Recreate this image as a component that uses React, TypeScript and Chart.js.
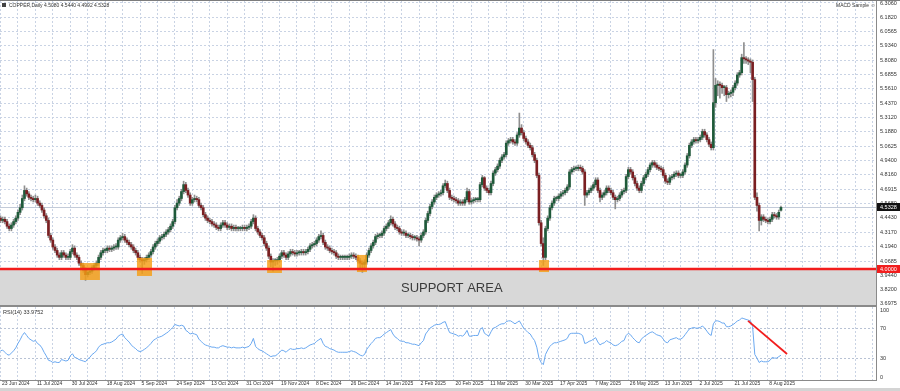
import React, { useEffect, useRef } from 'react';
import { Chart, registerables } from 'chart.js';
Chart.register(...registerables);

// ---------------- data ----------------
const closes = [
4.42,4.43,4.41,4.37,4.35,4.38,4.41,4.44,4.49,4.53,
4.61,4.68,4.65,4.62,4.61,4.60,4.61,4.57,4.55,4.51,
4.46,4.42,4.29,4.25,4.19,4.16,4.12,4.10,4.14,4.12,
4.10,4.10,4.15,4.18,4.12,4.10,4.05,4.03,3.99,3.95,
3.97,3.98,4.01,4.03,4.05,4.10,4.14,4.16,4.16,4.18,
4.17,4.18,4.19,4.19,4.25,4.27,4.28,4.25,4.23,4.21,
4.19,4.16,4.14,4.10,4.08,4.07,4.08,4.10,4.12,4.15,
4.19,4.22,4.24,4.27,4.28,4.30,4.32,4.34,4.37,4.41,
4.53,4.57,4.61,4.67,4.73,4.68,4.64,4.57,4.60,4.61,
4.60,4.55,4.53,4.47,4.44,4.42,4.41,4.39,4.38,4.36,
4.35,4.38,4.40,4.38,4.36,4.37,4.35,4.36,4.35,4.35,
4.35,4.36,4.35,4.36,4.37,4.41,4.44,4.35,4.32,4.29,
4.27,4.22,4.18,4.11,4.06,4.07,4.07,4.08,4.11,4.14,
4.12,4.10,4.13,4.15,4.14,4.13,4.14,4.14,4.15,4.14,
4.15,4.17,4.20,4.21,4.22,4.25,4.28,4.29,4.23,4.19,
4.18,4.16,4.15,4.14,4.11,4.10,4.10,4.10,4.10,4.10,
4.11,4.12,4.11,4.10,4.07,4.05,4.04,4.06,4.12,4.16,
4.20,4.23,4.28,4.29,4.29,4.31,4.35,4.37,4.40,4.43,
4.39,4.36,4.35,4.32,4.31,4.31,4.29,4.29,4.28,4.27,
4.27,4.26,4.25,4.29,4.32,4.42,4.48,4.54,4.58,4.62,
4.64,4.65,4.66,4.72,4.74,4.68,4.62,4.61,4.60,4.59,
4.57,4.58,4.57,4.60,4.67,4.58,4.59,4.60,4.60,4.60,
4.73,4.79,4.70,4.68,4.66,4.74,4.83,4.86,4.89,4.94,
4.97,4.99,5.09,5.11,5.12,5.10,5.09,5.16,5.22,5.18,
5.13,5.10,5.07,5.05,4.99,4.94,4.81,4.40,4.22,4.10,
4.35,4.44,4.53,4.57,4.61,4.61,4.63,4.65,4.66,4.68,
4.71,4.84,4.86,4.87,4.87,4.88,4.87,4.84,4.64,4.66,
4.68,4.70,4.73,4.77,4.68,4.62,4.64,4.66,4.70,4.68,
4.66,4.62,4.60,4.61,4.64,4.67,4.68,4.80,4.86,4.84,
4.79,4.74,4.70,4.68,4.74,4.79,4.82,4.86,4.90,4.92,
4.90,4.88,4.87,4.86,4.81,4.76,4.75,4.79,4.80,4.82,
4.83,4.81,4.81,4.84,4.90,4.98,5.07,5.10,5.12,5.11,
5.12,5.14,5.19,5.16,5.12,5.08,5.05,5.44,5.59,5.60,
5.59,5.57,5.57,5.51,5.52,5.53,5.57,5.61,5.68,5.70,
5.83,5.82,5.81,5.80,5.79,5.64,4.62,4.55,4.42,4.45,
4.43,4.42,4.41,4.43,4.47,4.46,4.45,4.49,4.5328
];

const opens = [
4.44,4.42,4.43,4.41,4.37,4.35,4.38,4.41,4.44,4.49,
4.53,4.61,4.68,4.65,4.62,4.61,4.60,4.61,4.57,4.55,
4.51,4.46,4.42,4.29,4.25,4.19,4.16,4.12,4.10,4.14,
4.12,4.10,4.10,4.15,4.18,4.12,4.10,4.05,4.03,3.99,
3.95,3.97,3.98,4.01,4.03,4.05,4.10,4.14,4.16,4.16,
4.18,4.17,4.18,4.19,4.19,4.25,4.27,4.28,4.25,4.23,
4.21,4.19,4.16,4.14,4.10,4.08,4.07,4.08,4.10,4.12,
4.15,4.19,4.22,4.24,4.27,4.28,4.30,4.32,4.34,4.37,
4.41,4.53,4.57,4.61,4.67,4.73,4.68,4.64,4.57,4.60,
4.61,4.60,4.55,4.53,4.47,4.44,4.42,4.41,4.39,4.38,
4.36,4.35,4.38,4.40,4.38,4.36,4.37,4.35,4.36,4.35,
4.35,4.35,4.36,4.35,4.36,4.37,4.41,4.44,4.35,4.32,
4.29,4.27,4.22,4.18,4.11,4.06,4.07,4.07,4.08,4.11,
4.14,4.12,4.10,4.13,4.15,4.14,4.13,4.14,4.14,4.15,
4.14,4.15,4.17,4.20,4.21,4.22,4.25,4.28,4.29,4.23,
4.19,4.18,4.16,4.15,4.14,4.11,4.10,4.10,4.10,4.10,
4.10,4.11,4.12,4.11,4.10,4.07,4.05,4.04,4.06,4.12,
4.16,4.20,4.23,4.28,4.29,4.29,4.31,4.35,4.37,4.40,
4.43,4.39,4.36,4.35,4.32,4.31,4.31,4.29,4.29,4.28,
4.27,4.27,4.26,4.25,4.29,4.32,4.42,4.48,4.54,4.58,
4.62,4.64,4.65,4.66,4.72,4.74,4.68,4.62,4.61,4.60,
4.59,4.57,4.58,4.57,4.60,4.67,4.58,4.59,4.60,4.60,
4.60,4.73,4.79,4.70,4.68,4.66,4.74,4.83,4.86,4.89,
4.94,4.97,4.99,5.09,5.11,5.12,5.10,5.09,5.16,5.22,
5.18,5.13,5.10,5.07,5.05,4.99,4.94,4.81,4.40,4.22,
4.10,4.35,4.44,4.53,4.57,4.61,4.61,4.63,4.65,4.66,
4.68,4.71,4.84,4.86,4.87,4.87,4.88,4.87,4.84,4.64,
4.66,4.68,4.70,4.73,4.77,4.68,4.62,4.64,4.66,4.70,
4.68,4.66,4.62,4.60,4.61,4.64,4.67,4.68,4.80,4.86,
4.84,4.79,4.74,4.70,4.68,4.74,4.79,4.82,4.86,4.90,
4.92,4.90,4.88,4.87,4.86,4.81,4.76,4.75,4.79,4.80,
4.82,4.83,4.81,4.81,4.84,4.90,4.98,5.07,5.10,5.12,
5.11,5.12,5.14,5.19,5.16,5.12,5.08,5.05,5.44,5.59,
5.60,5.59,5.57,5.57,5.51,5.52,5.53,5.57,5.61,5.68,
5.70,5.83,5.82,5.81,5.80,5.79,5.64,4.62,4.55,4.42,
4.45,4.43,4.42,4.41,4.43,4.47,4.46,4.45,4.508
];

const highs = [
4.46,4.45,4.45,4.43,4.39,4.40,4.43,4.46,4.51,4.56,
4.64,4.72,4.70,4.67,4.64,4.63,4.64,4.63,4.59,4.57,
4.53,4.48,4.44,4.31,4.27,4.21,4.18,4.14,4.16,4.16,
4.14,4.13,4.17,4.21,4.20,4.14,4.12,4.07,4.05,4.01,
4.00,4.00,4.03,4.05,4.07,4.12,4.16,4.18,4.18,4.20,
4.20,4.20,4.21,4.22,4.27,4.29,4.31,4.30,4.27,4.25,
4.23,4.21,4.18,4.16,4.12,4.10,4.10,4.12,4.14,4.17,
4.21,4.24,4.26,4.29,4.30,4.32,4.34,4.36,4.39,4.43,
4.55,4.60,4.63,4.69,4.76,4.75,4.70,4.66,4.62,4.64,
4.63,4.62,4.57,4.55,4.49,4.46,4.44,4.43,4.41,4.40,
4.38,4.40,4.42,4.42,4.40,4.39,4.39,4.38,4.38,4.37,
4.37,4.38,4.38,4.38,4.39,4.43,4.47,4.46,4.37,4.34,
4.31,4.29,4.24,4.20,4.13,4.09,4.09,4.10,4.13,4.16,
4.16,4.14,4.15,4.17,4.17,4.16,4.16,4.16,4.17,4.17,
4.17,4.19,4.22,4.23,4.24,4.27,4.30,4.33,4.31,4.25,
4.21,4.20,4.18,4.17,4.16,4.13,4.12,4.12,4.12,4.12,
4.13,4.14,4.14,4.13,4.12,4.09,4.07,4.08,4.14,4.18,
4.22,4.25,4.30,4.31,4.31,4.33,4.37,4.39,4.42,4.46,
4.45,4.41,4.38,4.37,4.34,4.34,4.33,4.31,4.31,4.30,
4.29,4.29,4.28,4.31,4.34,4.44,4.50,4.56,4.60,4.64,
4.66,4.67,4.68,4.74,4.77,4.76,4.70,4.64,4.63,4.62,
4.61,4.60,4.60,4.62,4.70,4.69,4.61,4.62,4.62,4.62,
4.75,4.81,4.80,4.72,4.70,4.76,4.85,4.88,4.91,4.96,
4.99,5.01,5.11,5.13,5.14,5.14,5.12,5.18,5.35,5.25,
5.20,5.15,5.12,5.09,5.07,5.01,4.96,4.83,4.42,4.27,
4.37,4.46,4.55,4.59,4.63,4.63,4.65,4.67,4.68,4.70,
4.73,4.86,4.88,4.89,4.89,4.90,4.90,4.89,4.86,4.68,
4.70,4.72,4.75,4.79,4.79,4.70,4.66,4.68,4.72,4.72,
4.70,4.68,4.64,4.63,4.66,4.69,4.70,4.82,4.88,4.88,
4.86,4.81,4.76,4.72,4.76,4.81,4.84,4.88,4.92,4.94,
4.94,4.92,4.90,4.89,4.88,4.83,4.78,4.81,4.82,4.84,
4.85,4.85,4.83,4.86,4.92,5.00,5.09,5.12,5.14,5.14,
5.14,5.16,5.21,5.21,5.18,5.14,5.10,5.90,5.65,5.63,
5.62,5.61,5.59,5.59,5.54,5.55,5.59,5.63,5.70,5.72,
5.86,5.96,5.84,5.83,5.82,5.81,5.66,4.66,4.57,4.47,
4.47,4.45,4.44,4.45,4.49,4.49,4.48,4.51,4.544
];

const lows = [
4.40,4.40,4.39,4.35,4.33,4.33,4.36,4.39,4.42,4.47,
4.51,4.59,4.63,4.60,4.59,4.58,4.58,4.55,4.53,4.49,
4.44,4.40,4.27,4.23,4.17,4.14,4.10,4.08,4.08,4.10,
4.08,4.08,4.08,4.13,4.10,4.08,4.03,4.01,3.97,3.90,
3.93,3.95,3.96,3.99,4.01,4.03,4.08,4.12,4.14,4.14,
4.15,4.15,4.16,4.17,4.17,4.23,4.25,4.23,4.21,4.19,
4.17,4.14,4.12,4.08,4.06,3.96,4.04,4.06,4.08,4.10,
4.13,4.17,4.20,4.22,4.25,4.26,4.28,4.30,4.32,4.35,
4.39,4.51,4.55,4.59,4.65,4.66,4.62,4.55,4.55,4.58,
4.58,4.53,4.51,4.45,4.42,4.40,4.39,4.37,4.36,4.34,
4.33,4.33,4.36,4.36,4.34,4.34,4.33,4.33,4.33,4.33,
4.33,4.33,4.33,4.33,4.34,4.35,4.39,4.33,4.30,4.27,
4.25,4.20,4.16,4.09,4.02,3.98,4.03,4.04,4.06,4.09,
4.10,4.08,4.08,4.11,4.12,4.11,4.11,4.12,4.12,4.12,
4.12,4.13,4.15,4.18,4.19,4.20,4.23,4.26,4.21,4.17,
4.16,4.14,4.13,4.12,4.09,4.08,4.08,4.08,4.08,4.08,
4.08,4.09,4.09,4.08,4.05,4.01,3.97,4.01,4.04,4.10,
4.14,4.18,4.21,4.26,4.27,4.27,4.29,4.33,4.35,4.38,
4.37,4.34,4.33,4.30,4.29,4.29,4.27,4.27,4.26,4.25,
4.25,4.24,4.20,4.23,4.27,4.30,4.40,4.46,4.52,4.56,
4.60,4.62,4.63,4.64,4.70,4.66,4.60,4.59,4.58,4.57,
4.55,4.55,4.55,4.55,4.58,4.56,4.56,4.57,4.58,4.58,
4.58,4.71,4.68,4.66,4.64,4.64,4.72,4.81,4.84,4.87,
4.92,4.95,4.97,5.07,5.09,5.08,5.07,5.07,5.14,5.16,
5.11,5.08,5.05,5.03,4.97,4.92,4.79,4.38,4.20,4.03,
4.08,4.33,4.42,4.51,4.55,4.59,4.59,4.61,4.63,4.64,
4.66,4.69,4.82,4.84,4.85,4.85,4.85,4.82,4.55,4.62,
4.64,4.66,4.68,4.71,4.66,4.58,4.60,4.62,4.64,4.66,
4.64,4.60,4.52,4.58,4.59,4.62,4.65,4.66,4.78,4.82,
4.77,4.72,4.68,4.66,4.66,4.72,4.77,4.80,4.84,4.88,
4.88,4.86,4.85,4.84,4.79,4.74,4.73,4.73,4.77,4.78,
4.80,4.79,4.79,4.79,4.82,4.88,4.96,5.05,5.08,5.09,
5.09,5.10,5.12,5.14,5.10,5.06,5.03,5.03,5.40,5.50,
5.48,5.52,5.50,5.45,5.48,5.49,5.50,5.55,5.59,5.66,
5.68,5.78,5.78,5.77,5.70,5.45,4.60,4.50,4.33,4.38,
4.41,4.40,4.39,4.39,4.41,4.44,4.43,4.43,4.4992
];

const rsi = [
40,41,38,35,34,37,40,44,50,55,
61,65,61,57,55,53,54,50,48,44,
38,33,27,26,24,25,24,24,28,27,
26,27,33,36,31,30,28,27,26,25,
29,31,35,37,40,45,48,49,50,51,
51,52,54,56,60,62,63,58,55,52,
48,45,43,40,39,40,42,44,47,50,
54,56,58,59,60,62,64,66,69,72,
76,75,74,75,74,68,66,63,64,63,
62,56,53,50,48,47,46,45,45,44,
44,46,47,46,45,45,44,45,44,44,
44,45,44,45,46,50,57,46,43,41,
40,38,36,34,32,33,33,35,38,41,
40,38,41,43,42,42,43,43,44,43,
44,46,48,49,50,53,55,57,50,46,
45,43,42,41,39,38,38,38,38,38,
39,40,39,38,36,34,33,35,42,46,
50,53,57,58,58,60,63,65,67,69,
63,59,57,54,53,53,51,51,50,49,
49,48,47,51,54,63,67,71,73,75,
76,76,77,79,80,72,65,64,63,62,
60,61,60,63,68,60,60,61,61,61,
69,72,64,62,60,66,71,72,74,76,
77,77,80,81,81,79,77,79,81,76,
71,68,65,63,58,54,45,30,24,21,
35,41,46,49,51,51,52,53,54,55,
57,63,64,64,64,64,63,61,50,51,
53,54,56,58,52,48,50,51,54,52,
51,48,47,48,50,53,54,61,64,62,
58,55,52,51,56,59,61,63,65,66,
64,62,61,60,56,52,51,55,56,57,
58,56,56,58,62,66,70,71,72,71,
71,72,74,71,67,63,61,77,81,81,
80,78,78,73,73,74,76,78,81,82,
85,84,83,82,81,73,35,30,24,26,
25,25,25,27,31,30,30,32,33.98
];

const dateLabels = [
'23 Jun 2024','11 Jul 2024','30 Jul 2024','18 Aug 2024','5 Sep 2024','24 Sep 2024',
'13 Oct 2024','31 Oct 2024','19 Nov 2024','8 Dec 2024','26 Dec 2024','14 Jan 2025',
'2 Feb 2025','20 Feb 2025','11 Mar 2025','30 Mar 2025','17 Apr 2025','7 May 2025',
'26 May 2025','13 Jun 2025','2 Jul 2025','21 Jul 2025','8 Aug 2025'
];
const barsPerLabel = 16;
const barsPerGrid = 8;

const priceTicks = [6.3060,6.1820,6.0565,5.9340,5.8080,5.6855,5.5610,5.4370,5.3120,5.1880,5.0625,
  4.9400,4.8160,4.6915,4.5680,4.4430,4.3170,4.1940,4.0685,3.9440,3.8200,3.6975];
const priceMin = 3.6875;
const priceMax = 6.3207;
const rsiLevels = [30, 70];
const rsiAxisLabels = [100, 70, 30, 0];

const supportLevel = 4.0;
const lastPrice = 4.5328;
const titleText = 'COPPER,Daily 4.5080 4.5440 4.4992 4.5328';
const rsiTitle = 'RSI(14) 33.9752';

// orange touch zones (bar index range, price range)
const zoneStart = [36.5, 62.6, 122.3, 163.5, 247.0];
const zoneEnd = [45.6, 69.5, 129.1, 168.1, 251.6];
const zoneLow = [3.904, 3.939, 3.965, 3.973, 3.973];
const zoneHigh = [4.051, 4.095, 4.077, 4.121, 4.077];

// red RSI trend line
const rsiTrendX = [342.9, 360.8];
const rsiTrendY = [81, 35.6];

const xMin = -0.23;
const xMax = 401.6;

// ---------------- styling ----------------
const FONT = '"Liberation Sans", Arial, sans-serif';
const GRID = '#c9d3e4';
const FRAME = '#8a8a8a';
const TXT = '#333333';
const UP = '#1f5a3a';
const DOWN = '#7a1f22';
const WICK = '#8f8f8f';

function gridTicks() {
  const t: { value: number }[] = [];
  for (let v = 0; v <= xMax; v += barsPerGrid) t.push({ value: v });
  return t;
}

const mainDecor = {
  id: 'mainDecor',
  beforeDatasetsDraw(chart: any) {
    const { ctx, chartArea: a, scales } = chart;
    const y = scales.y;
    const ys = y.getPixelForValue(supportLevel);
    ctx.save();
    ctx.fillStyle = '#d8d8d8';
    ctx.fillRect(a.left, ys, a.right - a.left, a.bottom - ys);
    const yp = Math.round(y.getPixelForValue(lastPrice)) + 0.5;
    ctx.strokeStyle = '#c3cbd9';
    ctx.lineWidth = 1;
    ctx.beginPath();
    ctx.moveTo(a.left, yp);
    ctx.lineTo(a.right, yp);
    ctx.stroke();
    ctx.restore();
  },
  afterDatasetsDraw(chart: any) {
    const { ctx, chartArea: a, scales } = chart;
    const x = scales.x, y = scales.y;
    ctx.save();
    ctx.fillStyle = 'rgba(245,158,20,0.82)';
    for (let i = 0; i < zoneStart.length; i++) {
      const x0 = x.getPixelForValue(zoneStart[i]);
      const x1 = x.getPixelForValue(zoneEnd[i]);
      const y0 = y.getPixelForValue(zoneHigh[i]);
      const y1 = y.getPixelForValue(zoneLow[i]);
      ctx.fillRect(x0, y0, x1 - x0, y1 - y0);
    }
    const ys = y.getPixelForValue(supportLevel);
    ctx.strokeStyle = '#f21d1d';
    ctx.lineWidth = 2.5;
    ctx.beginPath();
    ctx.moveTo(a.left, ys);
    ctx.lineTo(a.right, ys);
    ctx.stroke();
    ctx.fillStyle = '#3c3c3c';
    ctx.font = '500 13px ' + FONT;
    ctx.textAlign = 'center';
    ctx.textBaseline = 'middle';
    const cx = x.getPixelForValue(207);
    ctx.fillText('SUPPORT AREA', cx, (ys + a.bottom) / 2 + 1);
    ctx.restore();
  },
  afterDraw(chart: any) {
    const { ctx, chartArea: a, scales } = chart;
    const y = scales.y;
    ctx.save();
    ctx.strokeStyle = FRAME;
    ctx.lineWidth = 1;
    ctx.beginPath();
    ctx.moveTo(Math.round(a.right) + 0.5, a.top);
    ctx.lineTo(Math.round(a.right) + 0.5, a.bottom);
    ctx.moveTo(a.left, Math.round(a.bottom) + 0.5);
    ctx.lineTo(a.right + 1, Math.round(a.bottom) + 0.5);
    ctx.stroke();
    // axis labels
    ctx.fillStyle = TXT;
    ctx.font = '5.5px ' + FONT;
    ctx.textAlign = 'left';
    ctx.textBaseline = 'middle';
    for (const v of priceTicks) {
      const py = Math.min(Math.max(y.getPixelForValue(v), a.top + 2), a.bottom - 2);
      ctx.fillText(v.toFixed(4), a.right + 4, py);
    }
    const box = (v: number, bg: string, label: string) => {
      const py = Math.round(y.getPixelForValue(v));
      ctx.fillStyle = bg;
      ctx.fillRect(a.right + 1, py - 4, 23, 8);
      ctx.fillStyle = '#ffffff';
      ctx.font = '5.5px ' + FONT;
      ctx.textAlign = 'left';
      ctx.textBaseline = 'middle';
      ctx.fillText(label, a.right + 4, py);
    };
    box(lastPrice, '#111111', lastPrice.toFixed(4));
    box(supportLevel, '#f21d1d', supportLevel.toFixed(4));
    ctx.restore();
  },
};

const rsiDecor = {
  id: 'rsiDecor',
  afterDraw(chart: any) {
    const { ctx, chartArea: a, scales } = chart;
    const y = scales.y;
    ctx.save();
    ctx.strokeStyle = FRAME;
    ctx.lineWidth = 1;
    ctx.beginPath();
    ctx.moveTo(a.left, Math.round(a.top) - 0.5);
    ctx.lineTo(a.right + 1, Math.round(a.top) - 0.5);
    ctx.moveTo(Math.round(a.right) + 0.5, a.top);
    ctx.lineTo(Math.round(a.right) + 0.5, a.bottom);
    ctx.moveTo(a.left, Math.round(a.bottom) + 0.5);
    ctx.lineTo(a.right + 1, Math.round(a.bottom) + 0.5);
    ctx.stroke();
    ctx.fillStyle = TXT;
    ctx.font = '5.5px ' + FONT;
    ctx.textAlign = 'left';
    ctx.textBaseline = 'middle';
    for (const v of rsiAxisLabels) {
      let py = y.getPixelForValue(v);
      py = Math.min(Math.max(py, a.top + 3), a.bottom - 3);
      ctx.fillText(String(v), a.right + 4, py);
    }
    ctx.fillText(rsiTitle, a.left + 3, a.top + 5);
    ctx.restore();
  },
};

function xScale(showLabels: boolean) {
  return {
    type: 'linear',
    min: xMin,
    max: xMax,
    offset: false,
    position: 'bottom',
    afterBuildTicks: (s: any) => { s.ticks = gridTicks(); },
    afterFit: (s: any) => { s.height = showLabels ? 8 : 0; s.paddingLeft = 0; s.paddingRight = 0; },
    grid: { color: GRID, drawTicks: false, lineWidth: 1, offset: false },
    border: { display: false, dash: [2, 2] },
    ticks: {
      display: showLabels,
      autoSkip: false,
      maxRotation: 0,
      minRotation: 0,
      align: 'start',
      labelOffset: 1.5,
      padding: 1,
      color: TXT,
      font: { size: 5, family: FONT },
      callback: (v: number) => (v % barsPerLabel === 0 ? dateLabels[v / barsPerLabel] ?? '' : ''),
    },
  };
}

export default function App() {
  const mainRef = useRef<HTMLCanvasElement>(null);
  const rsiRef = useRef<HTMLCanvasElement>(null);

  useEffect(() => {
    const idx = closes.map((_, i) => i);
    const main = new Chart(mainRef.current as HTMLCanvasElement, {
      type: 'bar',
      data: {
        datasets: [
          {
            data: idx.map((i) => ({ x: i, y: [lows[i], highs[i]] })) as any,
            backgroundColor: WICK,
            barThickness: 1,
            grouped: false,
            order: 2,
          } as any,
          {
            data: idx.map((i) => ({ x: i, y: [Math.min(opens[i], closes[i]), Math.max(opens[i], closes[i])] })) as any,
            backgroundColor: idx.map((i) => (closes[i] >= opens[i] ? UP : DOWN)),
            barThickness: 2,
            minBarLength: 1,
            grouped: false,
            order: 1,
          } as any,
        ],
      },
      options: {
        responsive: false,
        animation: false,
        events: [],
        layout: { padding: { top: 1, bottom: 1, left: 0, right: 0 } },
        plugins: { legend: { display: false }, tooltip: { enabled: false } },
        scales: {
          x: xScale(false) as any,
          y: {
            type: 'linear',
            position: 'right',
            min: priceMin,
            max: priceMax,
            afterBuildTicks: (s: any) => { s.ticks = priceTicks.map((v) => ({ value: v })); },
            afterFit: (s: any) => { s.width = 24; },
            grid: { color: GRID, drawTicks: false },
            border: { display: false, dash: [2, 2] },
            ticks: { display: false },
          },
        },
      },
      plugins: [mainDecor],
    } as any);

    const rsiChart = new Chart(rsiRef.current as HTMLCanvasElement, {
      type: 'line',
      data: {
        datasets: [
          {
            data: idx.map((i) => ({ x: i, y: rsi[i] })),
            borderColor: '#6aa8f0',
            borderWidth: 1,
            pointRadius: 0,
            tension: 0,
            order: 2,
          },
          {
            data: rsiTrendX.map((v, i) => ({ x: v, y: rsiTrendY[i] })),
            borderColor: '#f21d1d',
            borderWidth: 1.8,
            pointRadius: 0,
            order: 1,
          },
        ],
      },
      options: {
        responsive: false,
        animation: false,
        events: [],
        layout: { padding: { top: 1, bottom: 0, left: 0, right: 0 } },
        plugins: { legend: { display: false }, tooltip: { enabled: false } },
        scales: {
          x: xScale(true) as any,
          y: {
            type: 'linear',
            position: 'right',
            min: 0,
            max: 100,
            afterBuildTicks: (s: any) => { s.ticks = rsiLevels.map((v) => ({ value: v })); },
            afterFit: (s: any) => { s.width = 24; },
            grid: { color: '#b8c2d4', drawTicks: false },
            border: { display: false, dash: [2, 2] },
            ticks: { display: false },
          },
        },
      },
      plugins: [rsiDecor],
    } as any);

    return () => {
      main.destroy();
      rsiChart.destroy();
    };
  }, []);

  return (
    <div style={{ position: 'relative', width: 900, height: 391, background: '#ffffff', overflow: 'hidden', fontFamily: FONT }}>
      <style>{'body{margin:0}'}</style>
      <canvas ref={mainRef} width={900} height={306} style={{ position: 'absolute', left: 0, top: 0, width: 900, height: 306 }} />
      <canvas ref={rsiRef} width={900} height={82} style={{ position: 'absolute', left: 0, top: 306, width: 900, height: 82 }} />
      <div style={{ position: 'absolute', left: 0, top: 0, width: 900, height: 1, background: '#7c7c7c' }} />
      <div style={{ position: 'absolute', left: 0, top: 388, width: 900, height: 3, background: '#d4d4d4' }} />
      <div style={{ position: 'absolute', left: 2, top: 3, width: 4, height: 4, background: '#444' }} />
      <div style={{ position: 'absolute', left: 9, top: 2, fontSize: 5, lineHeight: '6px', color: TXT, whiteSpace: 'pre' }}>{titleText}</div>
      <div style={{ position: 'absolute', left: 836, top: 2, fontSize: 5, lineHeight: '6px', color: TXT, whiteSpace: 'pre' }}>MACD Sample ☺</div>
    </div>
  );
}
